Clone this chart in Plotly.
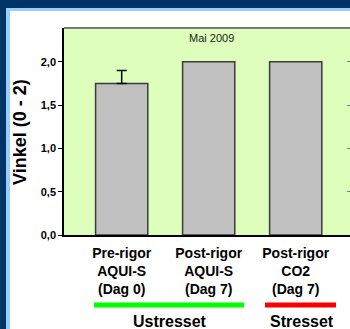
import plotly.graph_objects as go

# ---- data ----
categories = ["Pre-rigor AQUI-S (Dag 0)", "Post-rigor AQUI-S (Dag 7)", "Post-rigor CO2 (Dag 7)"]
tick_lines = [["Pre-rigor", "AQUI-S", "(Dag 0)"],
              ["Post-rigor", "AQUI-S", "(Dag 7)"],
              ["Post-rigor", "CO2", "(Dag 7)"]]
values = [1.75, 2.0, 2.0]
errors_up = [0.15, None, None]
y_ticks = [0.0, 0.5, 1.0, 1.5, 2.0]
group_labels = ["Ustresset", "Stresset"]

W, H = 350, 329
L, R, T, B = 64, 350, 28, 235   # plot area pixel box
FONT = "Arial, Liberation Sans, sans-serif"

def px(x):
    return (x - L) / (R - L)

def py(y):
    return (B - y) / (B - T)

def hline(x0, x1, y, color, width):
    return dict(type="line", xref="paper", yref="paper", x0=px(x0), x1=px(x1), y0=py(y), y1=py(y),
                line=dict(color=color, width=width))

def vline(x, y0, y1, color, width):
    return dict(type="line", xref="paper", yref="paper", x0=px(x), x1=px(x), y0=py(y0), y1=py(y1),
                line=dict(color=color, width=width))

ticktext = ["<br>".join(f"<span style='font-size:14px'>{s}</span>" for s in lines) for lines in tick_lines]
xpos = list(range(len(categories)))

fig = go.Figure()
fig.add_trace(go.Bar(
    x=xpos, y=values,
    marker=dict(color="#C0C0C0", line=dict(color="#3c3c3c", width=1.5)),
    width=0.6, hoverinfo="skip",
))
err_idx = [i for i, e in enumerate(errors_up) if e is not None]
fig.add_trace(go.Scatter(
    x=[xpos[i] for i in err_idx], y=[values[i] for i in err_idx], mode="markers",
    marker=dict(size=1, color="rgba(0,0,0,0)"),
    error_y=dict(type="data", array=[errors_up[i] for i in err_idx], arrayminus=[0] * len(err_idx),
                 symmetric=False, color="#000000", thickness=1.5, width=5),
    hoverinfo="skip", showlegend=False,
))
fig.add_trace(go.Scatter(x=[0], y=[values[0]], yaxis="y2", mode="markers",
                         marker=dict(opacity=0), hoverinfo="skip", showlegend=False))

NAVY, LBLUE = "#003366", "#99CCFF"
shapes = [
    hline(L, R, T, "#7a7a70", 2),
    hline(-2, W + 4, 4, NAVY, 8),
    vline(3, -2, H + 4, NAVY, 6),
    hline(6, W + 4, 9.5, LBLUE, 3),
    vline(8, 8, H + 4, LBLUE, 4),
    hline(94, 244, 305, "#00FF00", 5),
    hline(265, 336, 305, "#FF0000", 5),
]

annotations = [
    dict(text="Vinkel (0 - 2)", textangle=-90, xref="paper", yref="paper",
         x=px(20), y=py(132), showarrow=False, xanchor="center", yanchor="middle",
         font=dict(family=FONT, size=18, color="#000000", weight="bold")),
    dict(text="Mai 2009", xref="paper", yref="paper", x=px(211.5), y=py(37.5),
         showarrow=False, xanchor="center", yanchor="middle",
         font=dict(family=FONT, size=11, color="#222222")),
    dict(text=f"<b>{group_labels[0]}</b>", xref="paper", yref="paper", x=px(170), y=py(321),
         showarrow=False, xanchor="center", yanchor="middle",
         font=dict(family=FONT, size=16, color="#000000")),
    dict(text=f"<b>{group_labels[1]}</b>", xref="paper", yref="paper", x=px(301.5), y=py(321),
         showarrow=False, xanchor="center", yanchor="middle",
         font=dict(family=FONT, size=16, color="#000000")),
]

yr = [0, 2.39]

fig.update_layout(
    width=W, height=H,
    margin=dict(l=L, r=W - R, t=T, b=H - B, pad=0),
    paper_bgcolor="#FFFFFF", plot_bgcolor="#DDFFBB",
    showlegend=False,
    separators=",.",
    xaxis=dict(range=[-0.663, 2.624], tickvals=xpos, ticktext=ticktext,
               showline=True, linecolor="#000000", linewidth=2, ticks="", showgrid=False,
               zeroline=False, tickfont=dict(family=FONT, size=14, color="#000000", weight="bold"),
               ticklabelstandoff=4, fixedrange=True),
    yaxis=dict(range=yr, tickvals=y_ticks, tickformat=".1f", ticks="outside", ticklen=4,
               tickcolor="#000000", tickwidth=1, showline=True, linecolor="#000000", linewidth=1.5,
               showgrid=False, zeroline=False,
               tickfont=dict(family=FONT, size=11, color="#000000", weight="bold")),
    yaxis2=dict(range=yr, overlaying="y", side="right", tickvals=y_ticks, ticks="inside",
                ticklen=3, tickcolor="#808080", showticklabels=False, showline=False,
                showgrid=False, zeroline=False),
    shapes=shapes,
    annotations=annotations,
)

frame_js = (
    "document.body.style.margin='0';"
    "document.documentElement.style.overflow='hidden';"
    "function _fr(l,t,w,h,c){var d=document.createElement('div');"
    "d.style.cssText='position:fixed;pointer-events:none;z-index:9999;left:'+l+'px;top:'+t+'px;width:'+w+'px;height:'+h+'px;background:'+c;"
    "document.body.appendChild(d);}"
    f"_fr(0,0,{W},8,'{NAVY}');_fr(0,0,6,{H},'{NAVY}');"
    f"_fr(6,8,{W - 6},3,'{LBLUE}');_fr(6,8,4,{H - 8},'{LBLUE}');"
)

fig.write_html("out.html", config={"displayModeBar": False}, post_script=frame_js)
